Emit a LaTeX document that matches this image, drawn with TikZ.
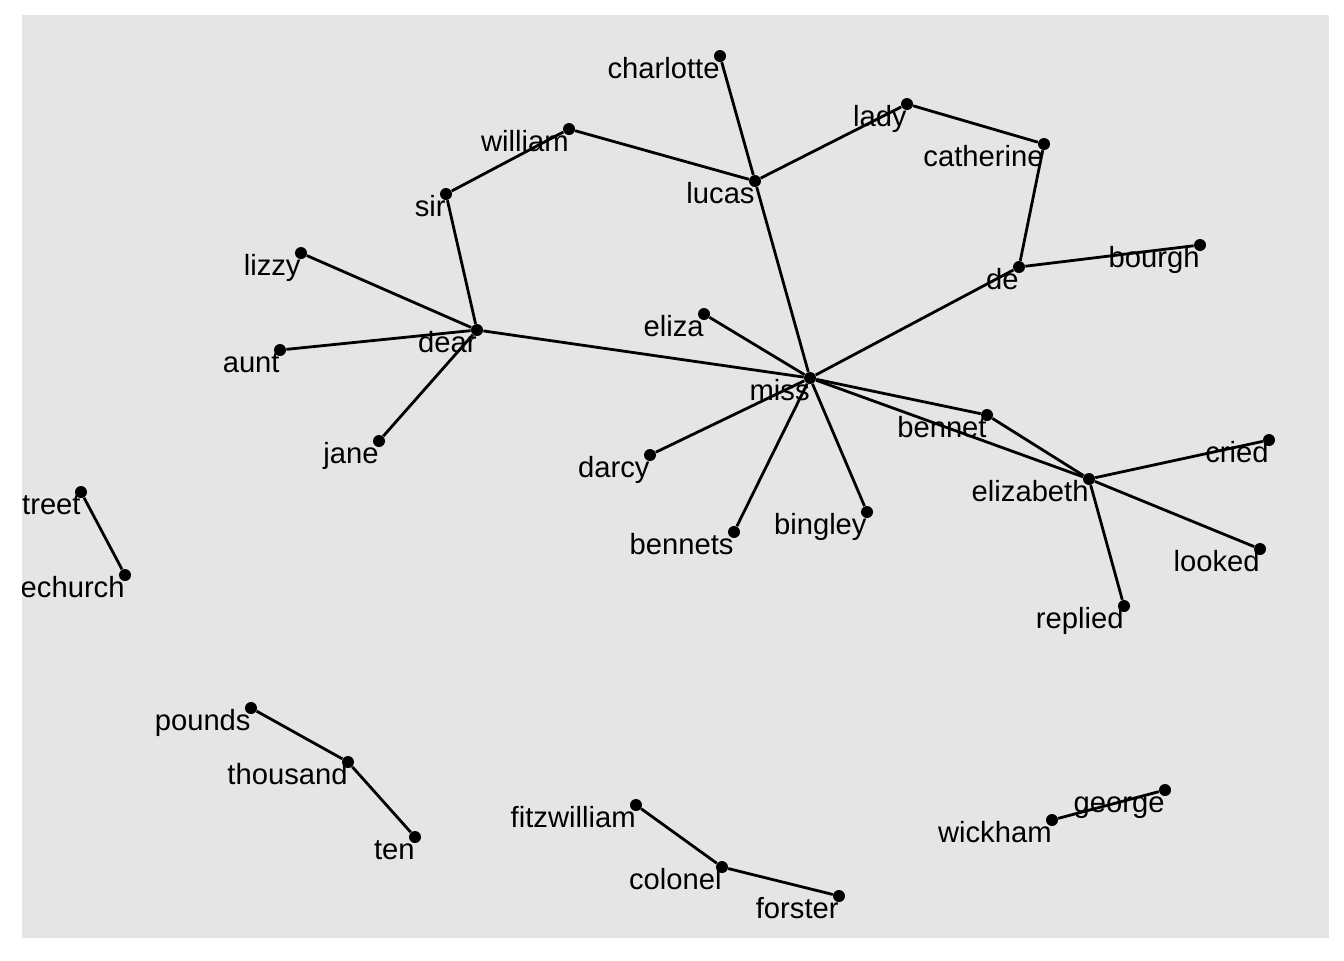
\documentclass[tikz,border=0pt]{standalone}
\usepackage{fontspec}
\setmainfont{Liberation Sans}
\definecolor{panelgrey}{RGB}{229,229,229}
\tikzset{
  word/.style={anchor=base east,inner sep=0pt,font=\fontsize{14.6pt}{17pt}\selectfont},
  link/.style={line width=1.4pt},
  dot/.style={circle,fill=black,inner sep=0pt,minimum size=6pt}
}
\begin{document}
\begin{tikzpicture}[x=0.5pt,y=-0.5pt]
  \useasboundingbox[fill=white] (0,0) rectangle (1344,960);
  \fill[panelgrey] (22,15) rectangle (1329,938);
  \begin{scope}
    \clip (22,15) rectangle (1329,938);
    % words and their points
    \foreach \n/\t/\x/\y in {charlotte/charlotte/720/56, william/william/569/129,
        lucas/lucas/755/181, sir/sir/446/194, lady/lady/907/104,
        catherine/catherine/1044/144, de/de/1019/267, bourgh/bourgh/1200/245,
        lizzy/lizzy/301/253, dear/dear/477/330, aunt/aunt/280/350, jane/jane/379/441,
        miss/miss/810/378, eliza/eliza/704/314, darcy/darcy/650/455,
        bennets/bennets/734/532, bingley/bingley/867/512, bennet/bennet/987/415,
        elizabeth/elizabeth/1089/479, cried/cried/1269/440, looked/looked/1260/549,
        replied/replied/1124/606, street/treet/81/492, gracechurch/echurch/125/575,
        pounds/pounds/251/708, thousand/thousand/348/762, ten/ten/415/837,
        fitzwilliam/fitzwilliam/636/805, colonel/colonel/722/867,
        forster/forster/839/896, wickham/wickham/1052/820, george/george/1165/790}
    {
      \node[dot] (\n) at (\x,\y) {};
      \node[word] (\n-w) at ([yshift=-11.4pt]\n.center) {\t};
    }
    % bigram links
    \foreach \a/\b in {charlotte/lucas, william/lucas, sir/william, lucas/lady,
        lady/catherine, catherine/de, de/bourgh, lucas/miss, de/miss, sir/dear,
        lizzy/dear, aunt/dear, jane/dear, dear/miss, eliza/miss, darcy/miss,
        bennets/miss, bingley/miss, miss/bennet, miss/elizabeth, bennet/elizabeth,
        elizabeth/cried, elizabeth/looked, elizabeth/replied, street/gracechurch,
        pounds/thousand, thousand/ten, fitzwilliam/colonel, colonel/forster,
        wickham/george}
      \draw[link] (\a)--(\b);
  \end{scope}
\end{tikzpicture}
\end{document}
